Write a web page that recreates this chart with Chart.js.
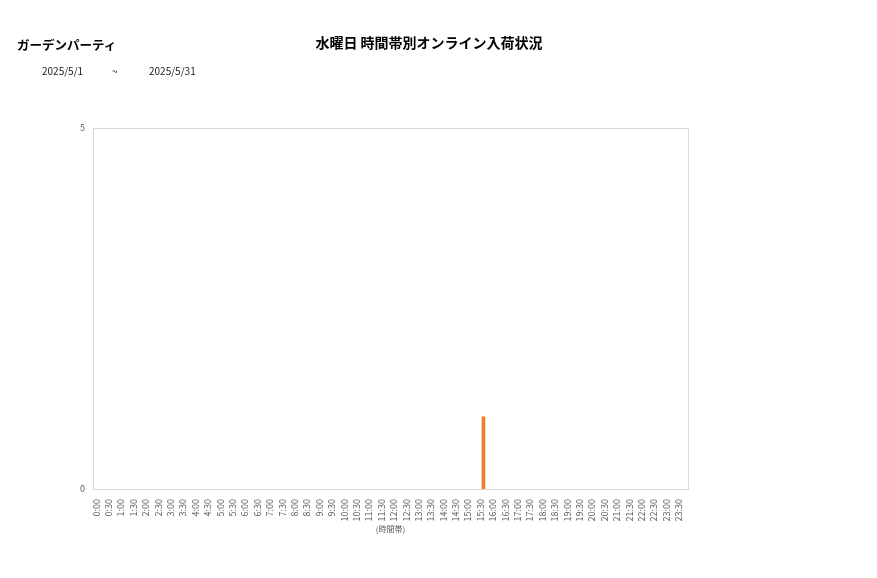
<!DOCTYPE html>
<html>
<head>
<meta charset="utf-8">
<script src="https://cdn.jsdelivr.net/npm/chart.js@4/dist/chart.umd.min.js"></script>
<style>
  body { margin: 0; background: #fff; font-family: 'Noto Sans CJK JP', sans-serif; }
  #wrap { position: relative; width: 877px; height: 578px; }
  #chart { position: absolute; left: 0; top: 0; }
  .txt { position: absolute; white-space: nowrap; color: #000; }
  #shop { left: 17px; top: 35px; font-size: 12.5px; font-weight: bold; }
  #title { left: 429px; top: 32px; font-size: 14px; font-weight: bold; transform: translateX(-50%); }
  .date { top: 63px; font-size: 10px; color: #222; }
</style>
</head>
<body>
<div id="wrap">
  <canvas id="chart" width="877" height="578"></canvas>
  <div class="txt" id="shop">ガーデンパーティ</div>
  <div class="txt" id="title">水曜日 時間帯別オンライン入荷状況</div>
  <div class="txt date" style="left:42px">2025/5/1</div>
  <div class="txt date" style="left:112px">~</div>
  <div class="txt date" style="left:149px">2025/5/31</div>
</div>
<script>
// time slots, every 30 minutes
const time_labels = ['0:00','0:30','1:00','1:30','2:00','2:30','3:00','3:30','4:00','4:30','5:00','5:30',
  '6:00','6:30','7:00','7:30','8:00','8:30','9:00','9:30','10:00','10:30','11:00','11:30',
  '12:00','12:30','13:00','13:30','14:00','14:30','15:00','15:30','16:00','16:30','17:00','17:30',
  '18:00','18:30','19:00','19:30','20:00','20:30','21:00','21:30','22:00','22:30','23:00','23:30'];
const arrivals = [0,0,0,0,0,0,0,0,0,0,0,0,
  0,0,0,0,0,0,0,0,0,0,0,0,
  0,0,0,0,0,0,0,1,0,0,0,0,
  0,0,0,0,0,0,0,0,0,0,0,0];
const y_ticks = [0, 5];

const frame_plugin = {
    id: 'frame',
    beforeDatasetsDraw(chart){
        let a = chart.chartArea;
        let ctx = chart.ctx;
        ctx.save();
        ctx.strokeStyle = '#d9d9d9';
        ctx.lineWidth = 1;
        ctx.strokeRect(a.left + 0.5, a.top + 0.5, a.right - a.left, a.bottom - a.top);
        ctx.restore();
    }
};

function init(){
    let ctx = document.getElementById('chart');
    new Chart(ctx, {
        type: 'bar',
        data: {
            labels: time_labels,
            datasets: [{
                data: arrivals,
                // zero slots draw nothing
                backgroundColor: c => c.raw ? '#ED7D31' : 'rgba(0,0,0,0)',
                barThickness: 3
            }]
        },
        options: {
            responsive: false,
            animation: false,
            layout: { padding: { top: 128, right: 189, left: 0, bottom: 44 } },
            plugins: { legend: { display: false }, tooltip: { enabled: false } },
            scales: {
                x: {
                    grid: { display: false },
                    border: { display: false },
                    ticks: {
                        autoSkip: false, minRotation: 90, maxRotation: 90,
                        labelOffset: -3, padding: 2,
                        color: '#595959', font: { size: 9, family: 'Noto Sans CJK JP' }
                    },
                    title: {
                        display: true, text: '(時間帯)', color: '#595959',
                        font: { size: 8, family: 'Noto Sans CJK JP' }, padding: 0
                    },
                    afterFit: scale => { scale.height = 45; }
                },
                y: {
                    min: y_ticks[0], max: y_ticks[1],
                    grid: { display: false },
                    border: { display: false },
                    afterBuildTicks: scale => { scale.ticks = y_ticks.map(v => ({ value: v })); },
                    ticks: { color: '#595959', padding: 0, font: { size: 9, family: 'Noto Sans CJK JP' } },
                    afterFit: scale => { scale.width = 93; }
                }
            }
        },
        plugins: [frame_plugin]
    });
}

init();
</script>
</body>
</html>
